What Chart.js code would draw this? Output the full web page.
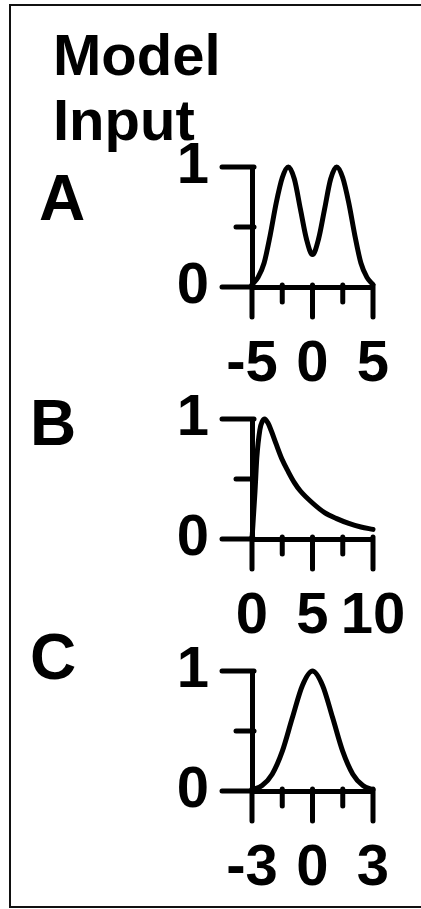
<!DOCTYPE html>
<html>
<head>
<meta charset="utf-8">
<script src="https://cdn.jsdelivr.net/npm/chart.js@4.4.1/dist/chart.umd.min.js"></script>
<style>
  body {
    margin: 0;
    width: 421px;
    height: 909px;
    overflow: hidden;
    background: #fff;
    position: relative;
    font-family: 'Liberation Sans', Arial, sans-serif;
    font-weight: bold;
  }
  .frame { position: absolute; left: 9px; top: 4px; width: 600px; height: 900px; border: 2px solid #111; }
  .txt { position: absolute; line-height: 1; color: #000; white-space: nowrap; }
  canvas { position: absolute; left: 130px; }
</style>
</head>
<body>
<div class="frame"></div>
<div class="txt" style="left:53px; top:26px; font-size:58px;">Model</div>
<div class="txt" style="left:53px; top:91px; font-size:58px;">Input</div>
<div class="txt" style="left:39px; top:166px; font-size:64px;">A</div>
<div class="txt" style="left:30px; top:391px; font-size:64px;">B</div>
<div class="txt" style="left:30px; top:625px; font-size:64px;">C</div>

<canvas id="chartA" width="291" height="270" style="top:129px"></canvas>
<canvas id="chartB" width="291" height="270" style="top:381px"></canvas>
<canvas id="chartC" width="291" height="270" style="top:633px"></canvas>

<script>
// ---- panel A: two-peaked input ----
const xA = [-5, -4.5, -4, -3.5, -3, -2.5, -2, -1.5, -1, -0.5, 0, 0.5, 1, 1.5, 2, 2.5, 3, 3.5, 4, 4.5, 5];
const yA = [0.02, 0.08, 0.2, 0.43, 0.7, 0.91, 1.0, 0.9, 0.65, 0.4, 0.27, 0.4, 0.65, 0.9, 1.0, 0.91, 0.7, 0.43, 0.2, 0.08, 0.02];
const xMajorA = [-5, 0, 5];
const xMinorA = [-2.5, 2.5];

// ---- panel B: skewed input ----
const xB = [0, 0.25, 0.4, 0.65, 0.85, 1.05, 1.3, 1.6, 2, 2.5, 3, 3.5, 4, 5, 6, 7, 8, 9, 10];
const yB = [0, 0.4, 0.68, 0.91, 0.98, 1.0, 0.97, 0.9, 0.79, 0.66, 0.56, 0.47, 0.4, 0.3, 0.22, 0.17, 0.13, 0.1, 0.08];
const xMajorB = [0, 5, 10];
const xMinorB = [2.5, 7.5];

// ---- panel C: single peak ----
const xC = [-3, -2.5, -2, -1.5, -1, -0.5, 0, 0.5, 1, 1.5, 2, 2.5, 3];
const yC = [0.01, 0.045, 0.14, 0.33, 0.61, 0.88, 1.0, 0.88, 0.61, 0.33, 0.14, 0.045, 0.01];
const xMajorC = [-3, 0, 3];
const xMinorC = [-1.5, 1.5];

// y axis is the same everywhere
const yMajor = [0, 1];
const yMinor = [0.5];

const FONT = { family: "'Liberation Sans', Arial, sans-serif", weight: 'bold', size: 58 };

// tick marks: long for labelled ticks, short for the in-between ones
const tickMarks = {
  id: 'tickMarks',
  afterDraw(chart, args, opts) {
    const { ctx, scales: { x, y } } = chart;
    const bottom = y.bottom, left = x.left;
    ctx.save();
    ctx.strokeStyle = '#000';
    ctx.lineWidth = 5;
    ctx.lineCap = 'round';
    const seg = (x1, y1, x2, y2) => { ctx.beginPath(); ctx.moveTo(x1, y1); ctx.lineTo(x2, y2); ctx.stroke(); };
    opts.xMajor.forEach(v => { const p = x.getPixelForValue(v); seg(p, bottom - 2, p, bottom + 30); });
    opts.xMinor.forEach(v => { const p = x.getPixelForValue(v); seg(p, bottom - 2, p, bottom + 15); });
    yMajor.forEach(v => { const p = y.getPixelForValue(v); seg(left - 30, p, left + 2, p); });
    yMinor.forEach(v => { const p = y.getPixelForValue(v); seg(left - 16, p, left + 2, p); });
    ctx.restore();
  }
};

// keep the plot box fixed: no extra room for label overhang
function noOverhang(s) {
  s.paddingTop = 0; s.paddingBottom = 0; s.paddingLeft = 0; s.paddingRight = 0;
}

function makePanel(id, xs, ys, xMajor, xMinor) {
  const ctx = document.getElementById(id).getContext('2d');
  return new Chart(ctx, {
    type: 'line',
    data: {
      datasets: [{
        data: xs.map((v, i) => ({ x: v, y: ys[i] })),
        borderColor: '#000',
        borderWidth: 5,
        pointRadius: 0,
        fill: false,
        cubicInterpolationMode: 'monotone',
        borderCapStyle: 'round',
        borderJoinStyle: 'round',
        clip: false
      }]
    },
    options: {
      responsive: false,
      animation: false,
      devicePixelRatio: 1,
      layout: { padding: { top: 38, right: 48, left: 0, bottom: 0 } },
      plugins: {
        legend: { display: false },
        tooltip: { enabled: false },
        tickMarks: { xMajor: xMajor, xMinor: xMinor }
      },
      scales: {
        x: {
          type: 'linear',
          min: xMajor[0],
          max: xMajor[xMajor.length - 1],
          afterBuildTicks: s => { s.ticks = xMajor.map(v => ({ value: v })); },
          afterFit: s => { s.height = 112; noOverhang(s); },
          grid: { display: false, drawTicks: false },
          border: { display: true, width: 5, color: '#000' },
          ticks: { autoSkip: false, maxRotation: 0, minRotation: 0, padding: 43, color: '#000', font: FONT,
                   callback: v => String(v) }
        },
        y: {
          min: 0,
          max: 1,
          afterBuildTicks: s => { s.ticks = yMajor.map(v => ({ value: v })); },
          afterFit: s => { s.width = 122; noOverhang(s); },
          grid: { display: false, drawTicks: false },
          border: { display: true, width: 5, color: '#000' },
          ticks: { autoSkip: false, padding: 43, color: '#000', font: FONT, callback: v => String(v) }
        }
      }
    },
    plugins: [tickMarks]
  });
}

makePanel('chartA', xA, yA, xMajorA, xMinorA);
makePanel('chartB', xB, yB, xMajorB, xMinorB);
makePanel('chartC', xC, yC, xMajorC, xMinorC);
</script>
</body>
</html>
